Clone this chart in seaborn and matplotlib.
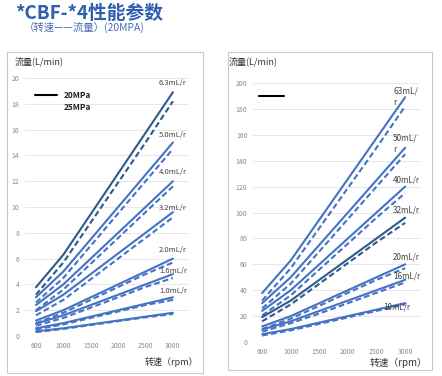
import numpy as np
import pandas as pd
import matplotlib
matplotlib.use("Agg")
import matplotlib.pyplot as plt
from matplotlib.lines import Line2D
from matplotlib.patches import Rectangle
import seaborn as sns

# --- data ---
rpm = ["600", "1000", "1500", "2000", "2500", "3000"]

# left chart (small displacements), L/min
left_disp = ["6.3", "5.0", "4.0", "3.2", "2.0", "1.6", "1.0", "0.6"]
left_20 = [
    [3.78, 6.3, 9.45, 12.6, 15.75, 18.9],
    [3.0, 5.0, 7.5, 10.0, 12.5, 15.0],
    [2.4, 4.0, 6.0, 8.0, 10.0, 12.0],
    [1.92, 3.2, 4.8, 6.4, 8.0, 9.6],
    [1.2, 2.0, 3.0, 4.0, 5.0, 6.0],
    [0.96, 1.6, 2.4, 3.2, 4.0, 4.8],
    [0.6, 1.0, 1.5, 2.0, 2.5, 3.0],
    [0.36, 0.6, 0.9, 1.2, 1.5, 1.8],
]
left_25 = [
    [3.2, 5.7, 8.8, 11.9, 15.0, 18.2],
    [2.6, 4.5, 7.0, 9.5, 12.0, 14.5],
    [2.0, 3.6, 5.6, 7.6, 9.6, 11.6],
    [1.6, 2.8, 4.4, 6.0, 7.6, 9.2],
    [1.0, 1.8, 2.8, 3.8, 4.8, 5.7],
    [0.8, 1.4, 2.2, 3.0, 3.8, 4.5],
    [0.5, 0.9, 1.4, 1.9, 2.4, 2.8],
    [0.3, 0.55, 0.85, 1.15, 1.45, 1.7],
]
left_labels = ["6.3mL/r", "5.0mL/r", "4.0mL/r", "3.2mL/r", "2.0mL/r", "1.6mL/r", "1.0mL/r"]
left_label_y = [19.6, 15.6, 12.7, 9.9, 6.7, 5.0, 3.5]

# right chart (large displacements), L/min
right_disp = ["63", "50", "40", "32", "20", "16", "10"]
right_20 = [
    [37.8, 63, 94.5, 126, 157.5, 189],
    [30, 50, 75, 100, 125, 150],
    [24, 40, 60, 80, 100, 120],
    [19.2, 32, 48, 64, 80, 96],
    [12, 20, 30, 40, 50, 60],
    [9.6, 16, 24, 32, 40, 48],
    [6, 10, 15, 20, 25, 30],
]
right_25 = [
    [32, 57, 88, 119, 150, 182],
    [26, 45, 70, 95, 120, 145],
    [20.5, 36, 56, 76, 96, 115],
    [16, 29, 45, 61, 77, 92],
    [10, 18, 28, 38, 48, 57],
    [8, 14.5, 22, 30, 38, 46],
    [5, 9, 14, 19, 24, 29],
]
right_labels = ["63mL/\nr", "50mL/\nr", "40mL/r", "32mL/r", "20mL/r", "16mL/r", "10mL/r"]
right_label_y = [189.6, 153, 125, 102, 65.6, 51, 27]


def long_df(disps, s20, s25):
    rows = []
    for d, a, b in zip(disps, s20, s25):
        for r, v in zip(rpm, a):
            rows.append((r, v, d, "20MPa"))
        for r, v in zip(rpm, b):
            rows.append((r, v, d, "25MPa"))
    return pd.DataFrame(rows, columns=["rpm", "flow", "disp", "pressure"])


sns.set_style("white")
plt.rcParams["font.family"] = ["Noto Sans CJK SC", "DejaVu Sans"]

W, H = 442, 376
fig = plt.figure(figsize=(W / 100, H / 100), dpi=100)


def fx(px):
    return px / W


def fy(py):
    return 1 - py / H


blue = "#4472c4"
dark = "#2e5a8c"
tick_col = "#8a8a8a"
dashes = {"20MPa": "", "25MPa": (2.8, 1.5)}

# frames around the two charts
for x0, y0, x1, y1 in [(7, 52, 203, 373), (228, 52, 432, 370)]:
    fig.patches.append(Rectangle((fx(x0), fy(y1)), fx(x1 - x0), (y1 - y0) / H,
                                 transform=fig.transFigure, fill=False,
                                 edgecolor="#c9c9c9", linewidth=0.8))

# --- left chart ---
axL = fig.add_axes([fx(25), fy(336), fx(163), (336 - 78) / H])
dfL = long_df(left_disp, left_20, left_25)
palL = {d: blue for d in left_disp}
palL["6.3"] = dark
sns.lineplot(data=dfL, x="rpm", y="flow", hue="disp", style="pressure",
             palette=palL, dashes=dashes, sort=False, estimator=None,
             linewidth=1.5, legend=False, ax=axL)
axL.set_xlim(-0.4, 5.55)
axL.set_ylim(0, 20)
axL.set_yticks(np.arange(0, 21, 2))
for t, yv in zip(left_labels, left_label_y):
    axL.text(5, yv, t, ha="center", va="center", fontsize=5.5, color="#444444")

# --- right chart ---
axR = fig.add_axes([fx(253), fy(342), fx(167), (342 - 83) / H])
dfR = long_df(right_disp, right_20, right_25)
palR = {d: blue for d in right_disp}
palR["32"] = dark
sns.lineplot(data=dfR, x="rpm", y="flow", hue="disp", style="pressure",
             palette=palR, dashes=dashes, sort=False, estimator=None,
             linewidth=1.5, legend=False, ax=axR)
axR.set_xlim(-0.32, 5.52)
axR.set_ylim(0, 200)
axR.set_yticks(np.arange(0, 201, 20))
for t, yv in zip(right_labels, right_label_y):
    if "\n" in t:
        axR.text(4.58, yv, t, ha="left", va="center", fontsize=6,
                 color="#444444", linespacing=1.3)
    else:
        xv = 4.7 if t.startswith("10") else 5.05
        axR.text(xv, yv, t, ha="center", va="center", fontsize=5.8, color="#444444")

for ax in (axL, axR):
    ax.set_xlabel("")
    ax.set_ylabel("")
    for s in ax.spines.values():
        s.set_visible(False)
    ax.grid(axis="y", color="#e3e3e3", linewidth=0.6)
    ax.grid(axis="x", visible=False)
    ax.set_axisbelow(True)
    ax.tick_params(length=0, labelsize=5, labelcolor=tick_col, pad=4)
    ax.patch.set_alpha(0)

# axis titles
fig.text(fx(15), fy(62), "流量(L/min)", fontsize=6.5, color="#333333", va="center")
fig.text(fx(229), fy(62), "流量(L/min)", fontsize=6.5, color="#333333", va="center")
fig.text(fx(198), fy(362), "转速（rpm）", fontsize=6.5, color="#333333",
         ha="right", va="center")
fig.text(fx(427), fy(363), "转速（rpm）", fontsize=7, color="#333333",
         ha="right", va="center")

# legend marks
fig.add_artist(Line2D([fx(35), fx(57)], [fy(95), fy(95)], color="black", linewidth=1.5))
fig.text(fx(64), fy(95), "20MPa", fontsize=6, fontweight="bold", color="#222222", va="center")
fig.text(fx(64), fy(108), "25MPa", fontsize=6, fontweight="bold", color="#222222", va="center")
fig.add_artist(Line2D([fx(259), fx(284)], [fy(96), fy(96)], color="black", linewidth=1.5))

# title
fig.text(fx(15), fy(13), "*CBF-*4性能参数", fontsize=13.5, fontweight="bold",
         color="#2f5fae", va="center")
fig.text(fx(24), fy(27), "（转速——流量）(20MPA)", fontsize=7.5,
         color="#4a6fb5", va="center")

fig.savefig("out.png", dpi=100)
